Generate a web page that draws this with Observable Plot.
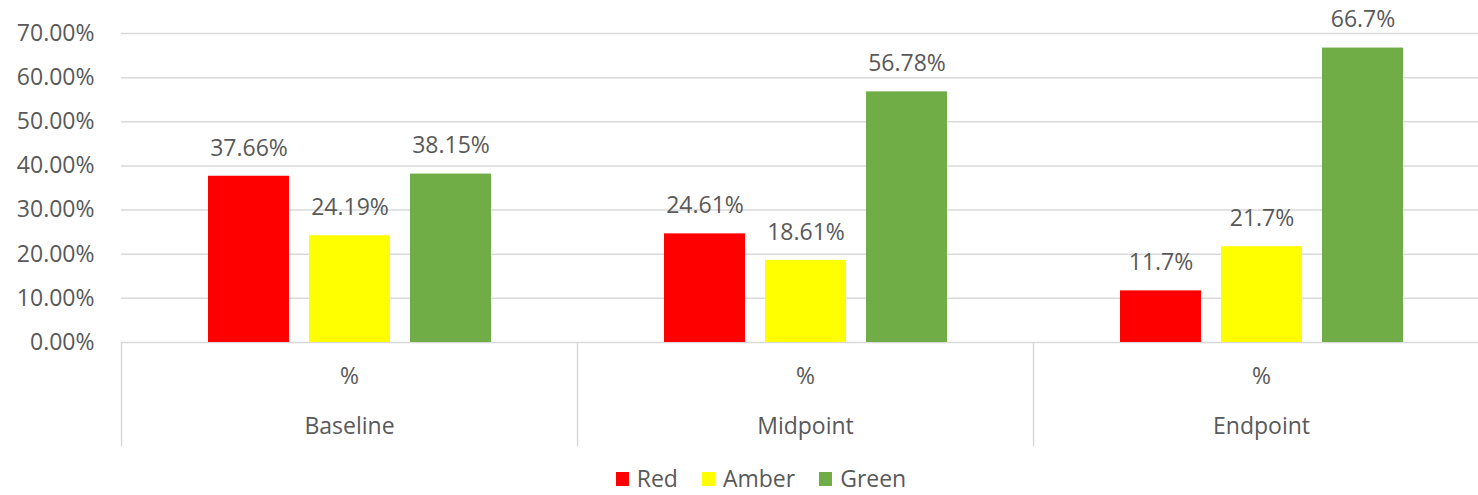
<!DOCTYPE html>
<html>
<head>
<meta charset="utf-8">
<script src="https://cdn.jsdelivr.net/npm/d3@7"></script>
<script src="https://cdn.jsdelivr.net/npm/@observablehq/plot@0.6"></script>
<style>
  html, body { margin: 0; padding: 0; background: #fff; }
  body { width: 1478px; height: 495px; overflow: hidden; font-family: "Open Sans", sans-serif; color: #595959; }
  #chart svg { display: block; }
  #legend { display: flex; justify-content: center; align-items: center; height: 33px; padding-top: 2px; padding-left: 44px; font-size: 23px; line-height: 1; }
  .item { display: flex; align-items: center; margin: 0 12px; }
  .sw { width: 13px; height: 14px; margin-right: 8px; }
</style>
</head>
<body>
<div id="chart"></div>
<div id="legend"></div>
<script>
const groups = ["Baseline", "Midpoint", "Endpoint"];
const subLabel = "%";
const series = ["Red", "Amber", "Green"];
const colors = ["#ff0000", "#ffff00", "#70ad47"];
const redValues = [37.66, 24.61, 11.7];
const amberValues = [24.19, 18.61, 21.7];
const greenValues = [38.15, 56.78, 66.7];
const yTicks = [0, 10, 20, 30, 40, 50, 60, 70];

const seriesValues = [redValues, amberValues, greenValues];
const data = [];
groups.forEach((g, gi) => {
  series.forEach((s, si) => {
    data.push({group: g, series: s, value: seriesValues[si][gi]});
  });
});

const grid = "#d9d9d9";

const chart = Plot.plot({
  width: 1478,
  height: 460,
  marginLeft: 120,
  marginRight: -12,
  marginTop: 33,
  marginBottom: 118,
  style: {fontFamily: "Open Sans, sans-serif", fontSize: "23px", color: "#595959", background: "#fff"},
  fx: {domain: groups, paddingInner: 0, paddingOuter: 0, axis: null, label: null},
  x: {domain: series, paddingInner: 0.2, paddingOuter: 0.85, axis: null, label: null},
  y: {domain: [0, 70], ticks: yTicks, tickFormat: d => d.toFixed(2) + "%", tickSize: 0, tickPadding: 27, label: null},
  color: {domain: series, range: colors},
  marks: [
    Plot.ruleY(yTicks, {stroke: grid, strokeWidth: 1.5}),
    Plot.frame({anchor: "left", stroke: grid, strokeWidth: 1.5, insetTop: 309, insetBottom: -103}),
    Plot.barY(data, {fx: "group", x: "series", y: "value", fill: "series"}),
    Plot.text(data, {fx: "group", x: "series", y: "value", text: d => `${d.value}%`, dy: -28, lineAnchor: "middle", fill: "#595959"}),
    Plot.text(groups, {fx: d => d, text: () => subLabel, frameAnchor: "bottom", lineAnchor: "middle", dy: 34, fill: "#595959"}),
    Plot.text(groups, {fx: d => d, text: d => d, frameAnchor: "bottom", lineAnchor: "middle", dy: 84, fill: "#595959"})
  ]
});
document.getElementById("chart").appendChild(chart);

const legend = document.getElementById("legend");
series.forEach((s, i) => {
  const item = document.createElement("div");
  item.className = "item";
  const sw = document.createElement("span");
  sw.className = "sw";
  sw.style.background = colors[i];
  const label = document.createElement("span");
  label.textContent = s;
  item.appendChild(sw);
  item.appendChild(label);
  legend.appendChild(item);
});
</script>
</body>
</html>
